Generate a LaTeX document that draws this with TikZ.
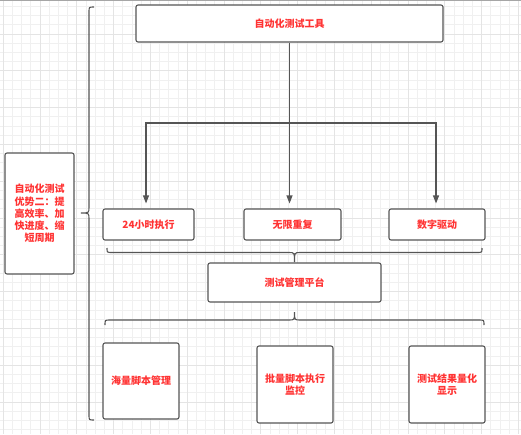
\documentclass[tikz,border=0pt]{standalone}
\usepackage{fontspec}
\setmainfont{Noto Sans CJK SC}
\usetikzlibrary{arrows.meta}
\definecolor{txtred}{RGB}{255,51,51}
\definecolor{boxline}{RGB}{85,85,85}
\definecolor{gridminor}{RGB}{240,240,240}
\definecolor{gridmajor}{RGB}{228,228,228}
\tikzset{
  box/.style={draw=boxline, line width=1.1pt, rounded corners=2pt, fill=white,
    text=txtred, font=\fontsize{10}{12.3}\selectfont\bfseries, align=center, inner sep=1pt},
  conn/.style={draw=boxline, line width=1.1pt, -{Triangle[width=6pt,length=8pt]}},
  bracestyle/.style={draw=boxline, line width=1.1pt}
}
\begin{document}
\begin{tikzpicture}[x=1pt,y=-1pt]
\useasboundingbox (0,0) rectangle (521,434);
\fill[white] (0,0) rectangle (521,434);
% grid
\foreach \i in {-4,...,52} {
  \draw[gridminor, line width=0.8pt] ({40+\i*9.2},0) -- ({40+\i*9.2},434);
}
\foreach \j in {-3,...,44} {
  \draw[gridminor, line width=0.8pt] (0,{34+\j*9.2}) -- (521,{34+\j*9.2});
}
\foreach \i in {-1,...,13} {
  \draw[gridmajor, line width=0.9pt] ({40+\i*36.8},0) -- ({40+\i*36.8},434);
}
\foreach \j in {-1,...,11} {
  \draw[gridmajor, line width=0.9pt] (0,{34+\j*36.8}) -- (521,{34+\j*36.8});
}
\draw[gray!70, line width=1pt] (0,0.5) -- (521,0.5);

% nodes
\node[box, minimum width=307pt, minimum height=37pt] (top) at (289.5,23.5) {自动化测试工具};
\node[box, minimum width=69pt, minimum height=121pt] (left) at (39.5,213.5) {自动化测试\\优势二：提\\高效率、加\\快进度、缩\\短周期};
\node[box, minimum width=91pt, minimum height=31pt] (b1) at (148.5,224.5) {24小时执行};
\node[box, minimum width=97pt, minimum height=31pt] (b2) at (292.5,224.5) {无限重复};
\node[box, minimum width=96pt, minimum height=31pt] (b3) at (437,224.5) {数字驱动};
\node[box, minimum width=173pt, minimum height=39pt] (plat) at (294.5,282.5) {测试管理平台};
\node[box, minimum width=76pt, minimum height=76pt] (c1) at (141,381) {海量脚本管理};
\node[box, minimum width=76pt, minimum height=77pt] (c2) at (295,384.5) {批量脚本执行\\监控};
\node[box, minimum width=76pt, minimum height=77pt] (c3) at (447,384.5) {测试结果量化\\显示};

% connectors
\coordinate (junc) at (top.south |- 0,123);
\draw[conn, shorten >=5pt] (top.south) -- (b2.north -| top.south);
\draw[conn, shorten >=5pt] (junc) -| ([xshift=-2.5pt]b1.north);
\draw[conn, shorten >=5pt] (junc) -| ([xshift=-1pt]b3.north);

% left brace
\draw[bracestyle] (94,7) .. controls (89,7) .. (89,12) -- (89,207)
  .. controls (89,213) .. (81,213) .. controls (89,213) .. (89,219)
  -- (89,415) .. controls (89,420) .. (94,420);
% brace under row 2 (tip down)
\draw[bracestyle] (107,248) .. controls (107,252.5) .. (112,252.5) -- (289,252.5)
  .. controls (294.5,252.5) .. (294.5,262) .. controls (294.5,252.5) .. (300,252.5)
  -- (477,252.5) .. controls (482,252.5) .. (482,248);
% brace above row 3 (tip up)
\draw[bracestyle] (105,325) .. controls (105,320) .. (110,320) -- (289,320)
  .. controls (294.5,320) .. (294.5,312) .. controls (294.5,320) .. (300,320)
  -- (479,320) .. controls (484,320) .. (484,325);
\end{tikzpicture}
\end{document}
